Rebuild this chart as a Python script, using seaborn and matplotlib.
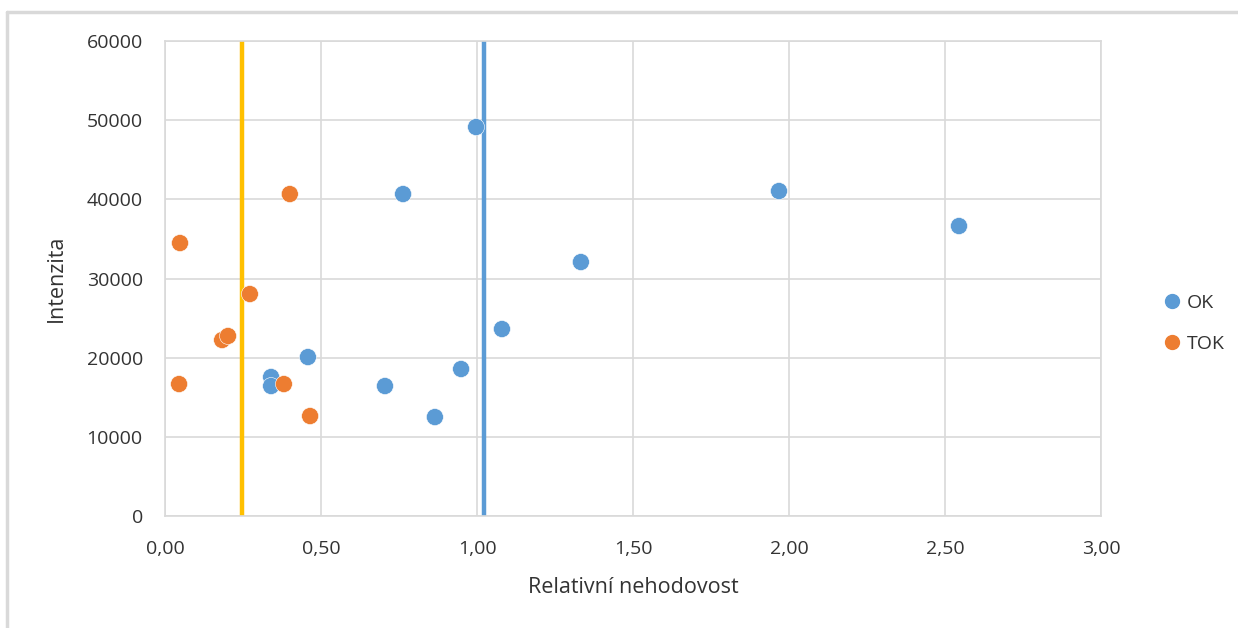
import numpy as np
import pandas as pd
import seaborn as sns
import matplotlib.pyplot as plt
from matplotlib.lines import Line2D
from matplotlib.ticker import FuncFormatter

# OK series
ok_x = [0.34, 0.34, 0.458, 0.705, 0.763, 0.865, 0.949, 0.997, 1.08, 1.333, 1.968, 2.545]
ok_y = [17560, 16420, 20080, 16420, 40670, 12500, 18570, 49130, 23620, 32080, 41050, 36630]

# TOK series
tok_x = [0.048, 0.045, 0.183, 0.202, 0.272, 0.40, 0.381, 0.465]
tok_y = [34480, 16670, 22230, 22740, 28040, 40670, 16670, 12630]

# vertical reference lines
tok_line = 0.247
ok_line = 1.022

df = pd.DataFrame({
    "x": ok_x + tok_x,
    "y": ok_y + tok_y,
    "skupina": ["OK"] * len(ok_x) + ["TOK"] * len(tok_x),
})

sns.set_style("white")
plt.rcParams['font.family'] = ['Open Sans', 'DejaVu Sans']
txt = "#333333"

fig = plt.figure(figsize=(12.38, 6.28), dpi=100)
ax = fig.add_axes([0.1333, 0.1783, 0.756, 0.7564])

ax.axvline(tok_line, color="#FFC000", lw=3.2, zorder=2)
ax.axvline(ok_line, color="#5B9BD5", lw=3.2, zorder=2)

sns.scatterplot(
    data=df, x="x", y="y", hue="skupina",
    palette={"OK": "#5B9BD5", "TOK": "#ED7D31"},
    s=150, edgecolor="white", linewidth=0.4, ax=ax, zorder=3,
    legend=False
)

ax.set_xlim(0, 3)
ax.set_ylim(0, 60000)
ax.set_xticks(np.arange(0, 3.01, 0.5))
ax.set_yticks(np.arange(0, 60001, 10000))
ax.xaxis.set_major_formatter(FuncFormatter(lambda v, p: f"{v:.2f}".replace(".", ",")))
ax.yaxis.set_major_formatter(FuncFormatter(lambda v, p: f"{int(v)}"))
ax.grid(True, color="#D9D9D9", lw=1.2)
ax.set_axisbelow(True)
for sp in ax.spines.values():
    sp.set_color("#D9D9D9")
    sp.set_linewidth(1.2)
ax.tick_params(axis="x", length=0, labelsize=14, colors=txt, pad=17)
ax.tick_params(axis="y", length=0, labelsize=14, colors=txt, pad=16)

ax.set_xlabel("Relativní nehodovost", fontsize=15.5, color=txt, labelpad=14)
ax.set_ylabel("Intenzita", fontsize=15.5, color=txt, labelpad=14)

handles = [
    Line2D([], [], marker="o", ls="", color="#5B9BD5", markersize=10, label="OK"),
    Line2D([], [], marker="o", ls="", color="#ED7D31", markersize=10, label="TOK"),
]
fig.legend(handles=handles, loc="center left", bbox_to_anchor=(0.926, 0.485),
           frameon=False, fontsize=14, handlelength=0.8, handletextpad=0.4,
           labelspacing=1.2, labelcolor=txt)

# outer chart border
fig.add_artist(Line2D([7/1238, 7/1238], [0, 1 - 12/628], color="#D9D9D9", lw=2.5,
                      transform=fig.transFigure))
fig.add_artist(Line2D([7/1238, 1], [1 - 12/628, 1 - 12/628], color="#D9D9D9", lw=2.5,
                      transform=fig.transFigure))

fig.savefig("out.png", dpi=100)
